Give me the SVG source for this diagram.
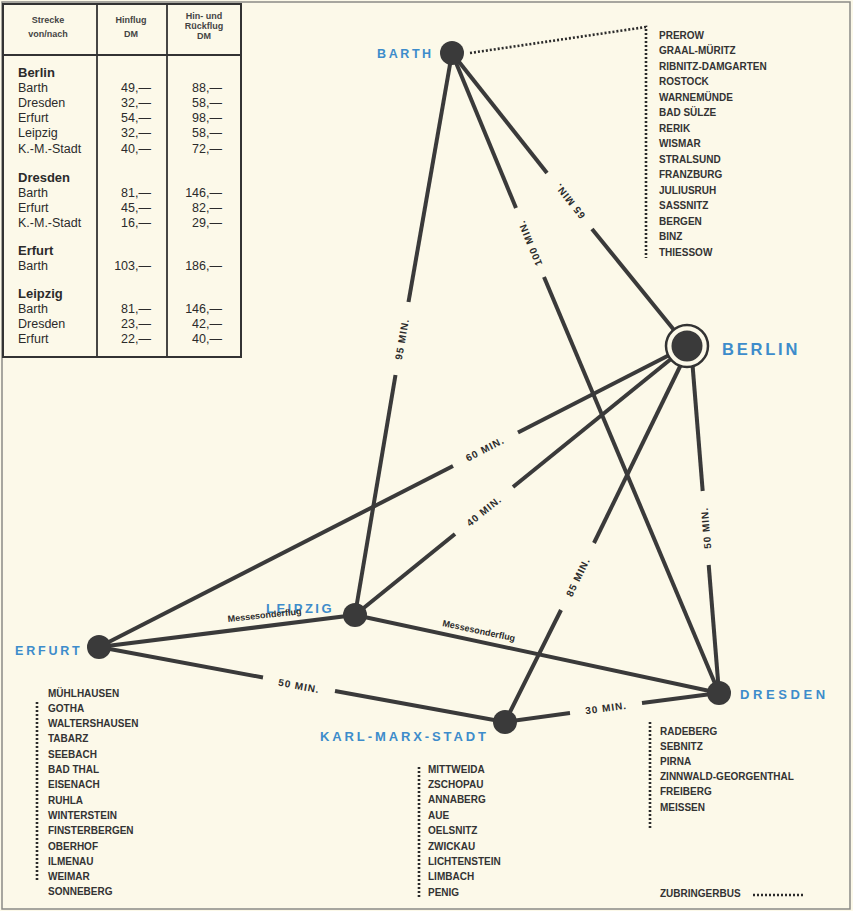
<svg xmlns="http://www.w3.org/2000/svg" width="853" height="911" viewBox="0 0 853 911">
<style>
text{font-family:"Liberation Sans",Arial,sans-serif;fill:#2b2b2b}
.ln{stroke:#3a3a3a;stroke-width:4;fill:none}
.dot{stroke:#2b2b2b;stroke-width:2.6;stroke-dasharray:2 2;fill:none}
.node{fill:#3a3a3a}
.city{fill:#3d8ccb;font-weight:bold}
.lst{font-size:10px;font-weight:bold;fill:#333}
.lbl{font-size:10px;font-weight:bold;letter-spacing:1px}
.th{font-size:9px;font-weight:bold;text-anchor:middle;fill:#444}
.tb{font-size:12.5px}
.hd{font-size:13px;font-weight:bold}
.num{font-size:12.5px;text-anchor:end}
</style>
<rect x="0" y="0" width="853" height="911" fill="#fcf9e9"/>
<rect x="2" y="2" width="848" height="907" fill="none" stroke="#8a8a86" stroke-width="1.5"/>

<g id="table">
<rect x="3" y="4" width="238" height="353" fill="none" stroke="#333" stroke-width="2"/>
<line x1="3" y1="55" x2="241" y2="55" stroke="#333" stroke-width="1.8"/>
<line x1="97" y1="4" x2="97" y2="357" stroke="#333" stroke-width="1.8"/>
<line x1="167" y1="4" x2="167" y2="357" stroke="#333" stroke-width="1.8"/>
<text class="th" x="48" y="23">Strecke</text>
<text class="th" x="48" y="37">von/nach</text>
<text class="th" x="131" y="23">Hinflug</text>
<text class="th" x="131" y="37">DM</text>
<text class="th" x="204" y="19">Hin- und</text>
<text class="th" x="204" y="28.5">Rückflug</text>
<text class="th" x="204" y="38.5">DM</text>
<text class="hd" x="18" y="77">Berlin</text>
<text class="tb" x="18" y="92">Barth</text><text class="num" x="151" y="92">49,—</text><text class="num" x="222" y="92">88,—</text>
<text class="tb" x="18" y="107">Dresden</text><text class="num" x="151" y="107">32,—</text><text class="num" x="222" y="107">58,—</text>
<text class="tb" x="18" y="122">Erfurt</text><text class="num" x="151" y="122">54,—</text><text class="num" x="222" y="122">98,—</text>
<text class="tb" x="18" y="137">Leipzig</text><text class="num" x="151" y="137">32,—</text><text class="num" x="222" y="137">58,—</text>
<text class="tb" x="18" y="153">K.-M.-Stadt</text><text class="num" x="151" y="153">40,—</text><text class="num" x="222" y="153">72,—</text>
<text class="hd" x="18" y="182">Dresden</text>
<text class="tb" x="18" y="197">Barth</text><text class="num" x="151" y="197">81,—</text><text class="num" x="222" y="197">146,—</text>
<text class="tb" x="18" y="212">Erfurt</text><text class="num" x="151" y="212">45,—</text><text class="num" x="222" y="212">82,—</text>
<text class="tb" x="18" y="227">K.-M.-Stadt</text><text class="num" x="151" y="227">16,—</text><text class="num" x="222" y="227">29,—</text>
<text class="hd" x="18" y="255">Erfurt</text>
<text class="tb" x="18" y="270">Barth</text><text class="num" x="151" y="270">103,—</text><text class="num" x="222" y="270">186,—</text>
<text class="hd" x="18" y="298">Leipzig</text>
<text class="tb" x="18" y="313">Barth</text><text class="num" x="151" y="313">81,—</text><text class="num" x="222" y="313">146,—</text>
<text class="tb" x="18" y="328">Dresden</text><text class="num" x="151" y="328">23,—</text><text class="num" x="222" y="328">42,—</text>
<text class="tb" x="18" y="343">Erfurt</text><text class="num" x="151" y="343">22,—</text><text class="num" x="222" y="343">40,—</text>
</g>

<g id="connectors">
<line class="ln" x1="452" y1="53" x2="408.5" y2="302"/>
<line class="ln" x1="395.5" y1="375" x2="355" y2="615"/>
<text class="lbl" text-anchor="middle" transform="translate(402,339) rotate(-80)" dy="3.5">95 MIN.</text>
<line class="ln" x1="452" y1="53" x2="516" y2="208"/>
<line class="ln" x1="544" y1="277" x2="719" y2="693"/>
<text class="lbl" text-anchor="middle" transform="translate(530,243) rotate(-112.5)" dy="3.5">100 MIN.</text>
<line class="ln" x1="452" y1="53" x2="547" y2="173"/>
<line class="ln" x1="592" y1="229" x2="687" y2="346"/>
<text class="lbl" text-anchor="middle" transform="translate(570,201) rotate(-128.5)" dy="3.5">65 MIN.</text>
<line class="ln" x1="687" y1="346" x2="518" y2="432.5"/>
<line class="ln" x1="453" y1="466" x2="99" y2="647"/>
<text class="lbl" text-anchor="middle" transform="translate(485,449) rotate(-27)" dy="3.5">60 MIN.</text>
<line class="ln" x1="687" y1="346" x2="513" y2="487"/>
<line class="ln" x1="455" y1="534" x2="355" y2="615"/>
<text class="lbl" text-anchor="middle" transform="translate(484,511) rotate(-39)" dy="3.5">40 MIN.</text>
<line class="ln" x1="690" y1="346" x2="594" y2="543"/>
<line class="ln" x1="561" y1="610" x2="505" y2="722"/>
<text class="lbl" text-anchor="middle" transform="translate(578,577) rotate(-64)" dy="3.5">85 MIN.</text>
<line class="ln" x1="691" y1="346" x2="702.7" y2="491"/>
<line class="ln" x1="708.7" y1="565" x2="719" y2="693"/>
<text class="lbl" text-anchor="middle" transform="translate(706,528) rotate(-95)" dy="3.5">50 MIN.</text>
<line class="ln" x1="99" y1="647" x2="355" y2="615"/>
<line class="ln" x1="355" y1="615" x2="719" y2="693"/>
<line class="ln" x1="99" y1="647" x2="263" y2="677.5"/>
<line class="ln" x1="335" y1="691" x2="505" y2="722"/>
<text class="lbl" text-anchor="middle" transform="translate(299,686) rotate(10.5)" dy="3.5">50 MIN.</text>
<line class="ln" x1="505" y1="722" x2="570" y2="713"/>
<line class="ln" x1="642" y1="703" x2="719" y2="693"/>
<text class="lbl" text-anchor="middle" transform="translate(606,708) rotate(-7.7)" dy="3.5">30 MIN.</text>
<polyline class="dot" points="470,53 646,27 646,258"/>
<line class="dot" x1="37" y1="702" x2="37" y2="880"/>
<line class="dot" x1="419" y1="767" x2="419" y2="897"/>
<line class="dot" x1="650" y1="722" x2="650" y2="828"/>
</g>

<g id="barth">
<circle class="node" cx="452" cy="53" r="12"/>
<text class="city" x="377" y="58" font-size="12.5" letter-spacing="2.6">BARTH</text>
<text class="lst" x="659" y="38.5">PREROW</text>
<text class="lst" x="659" y="54">GRAAL-MÜRITZ</text>
<text class="lst" x="659" y="69.5">RIBNITZ-DAMGARTEN</text>
<text class="lst" x="659" y="85">ROSTOCK</text>
<text class="lst" x="659" y="100.5">WARNEMÜNDE</text>
<text class="lst" x="659" y="116">BAD SÜLZE</text>
<text class="lst" x="659" y="131.5">RERIK</text>
<text class="lst" x="659" y="147">WISMAR</text>
<text class="lst" x="659" y="162.5">STRALSUND</text>
<text class="lst" x="659" y="178">FRANZBURG</text>
<text class="lst" x="659" y="193.5">JULIUSRUH</text>
<text class="lst" x="659" y="209">SASSNITZ</text>
<text class="lst" x="659" y="224.5">BERGEN</text>
<text class="lst" x="659" y="240">BINZ</text>
<text class="lst" x="659" y="255.5">THIESSOW</text>
</g>

<g id="berlin">
<circle cx="687" cy="346" r="21" fill="#fcf9e9" stroke="#333" stroke-width="2.5"/>
<circle class="node" cx="687" cy="346" r="15.5"/>
<text class="city" x="722" y="355" font-size="16.5" letter-spacing="2.8">BERLIN</text>
</g>

<g id="leipzig">
<circle class="node" cx="355" cy="615" r="12"/>
<text class="city" x="266" y="613" font-size="13" letter-spacing="2.5">LEIPZIG</text>
</g>

<g id="messe">
<text x="228" y="622" font-size="9" font-weight="bold" transform="rotate(-6,228,622)">Messesonderflug</text>
<text x="442" y="626" font-size="9" font-weight="bold" transform="rotate(12,442,626)">Messesonderflug</text>
</g>

<g id="erfurt">
<circle class="node" cx="99" cy="647" r="12"/>
<text class="city" x="15" y="655" font-size="12.5" letter-spacing="2.8">ERFURT</text>
<text class="lst" x="48" y="696.5">MÜHLHAUSEN</text>
<text class="lst" x="48" y="711.8">GOTHA</text>
<text class="lst" x="48" y="727.1">WALTERSHAUSEN</text>
<text class="lst" x="48" y="742.4">TABARZ</text>
<text class="lst" x="48" y="757.7">SEEBACH</text>
<text class="lst" x="48" y="773">BAD THAL</text>
<text class="lst" x="48" y="788.3">EISENACH</text>
<text class="lst" x="48" y="803.6">RUHLA</text>
<text class="lst" x="48" y="818.9">WINTERSTEIN</text>
<text class="lst" x="48" y="834.2">FINSTERBERGEN</text>
<text class="lst" x="48" y="849.5">OBERHOF</text>
<text class="lst" x="48" y="864.8">ILMENAU</text>
<text class="lst" x="48" y="880.1">WEIMAR</text>
<text class="lst" x="48" y="895.4">SONNEBERG</text>
</g>

<g id="karl-marx-stadt">
<circle class="node" cx="505" cy="722" r="12"/>
<text class="city" x="320" y="741" font-size="13" letter-spacing="2.9">KARL-MARX-STADT</text>
<text class="lst" x="428" y="772.5">MITTWEIDA</text>
<text class="lst" x="428" y="787.9">ZSCHOPAU</text>
<text class="lst" x="428" y="803.3">ANNABERG</text>
<text class="lst" x="428" y="818.7">AUE</text>
<text class="lst" x="428" y="834.1">OELSNITZ</text>
<text class="lst" x="428" y="849.5">ZWICKAU</text>
<text class="lst" x="428" y="864.9">LICHTENSTEIN</text>
<text class="lst" x="428" y="880.3">LIMBACH</text>
<text class="lst" x="428" y="895.7">PENIG</text>
</g>

<g id="dresden">
<circle class="node" cx="719" cy="693" r="12"/>
<text class="city" x="740" y="699" font-size="13" letter-spacing="3.6">DRESDEN</text>
<text class="lst" x="660" y="734.5">RADEBERG</text>
<text class="lst" x="660" y="749.7">SEBNITZ</text>
<text class="lst" x="660" y="764.9">PIRNA</text>
<text class="lst" x="660" y="780.1">ZINNWALD-GEORGENTHAL</text>
<text class="lst" x="660" y="795.3">FREIBERG</text>
<text class="lst" x="660" y="810.5">MEISSEN</text>
</g>

<g id="legend">
<text class="lst" x="660" y="897">ZUBRINGERBUS</text>
<line class="dot" x1="753" y1="895" x2="803" y2="895"/>
</g>
</svg>
